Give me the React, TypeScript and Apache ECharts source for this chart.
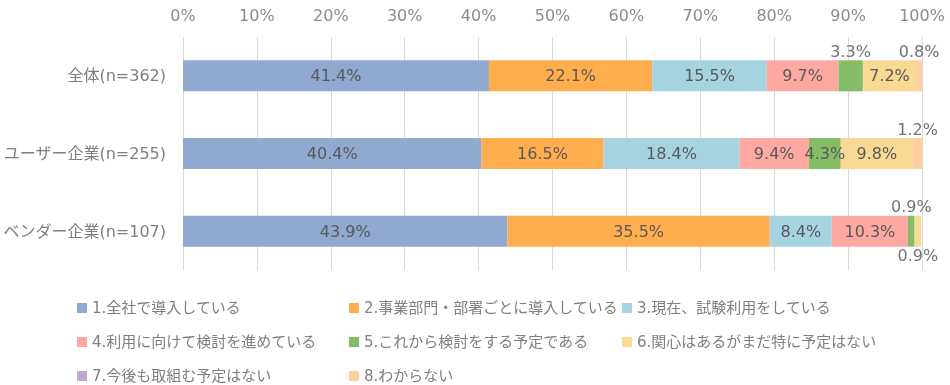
import React, { useEffect, useRef } from "react";
import * as echarts from "echarts";

const categories = ["全体(n=362)", "ユーザー企業(n=255)", "ベンダー企業(n=107)"];
const seriesNames = [
  "1.全社で導入している",
  "2.事業部門・部署ごとに導入している",
  "3.現在、試験利用をしている",
  "4.利用に向けて検討を進めている",
  "5.これから検討をする予定である",
  "6.関心はあるがまだ特に予定はない",
  "7.今後も取組む予定はない",
  "8.わからない",
];
const s1 = [41.4, 40.4, 43.9];
const s2 = [22.1, 16.5, 35.5];
const s3 = [15.5, 18.4, 8.4];
const s4 = [9.7, 9.4, 10.3];
const s5 = [3.3, 4.3, 0.9];
const s6 = [7.2, 9.8, 0.9];
const s7 = [0, 0, 0];
const s8 = [0.8, 1.2, 0];
const seriesValues = [s1, s2, s3, s4, s5, s6, s7, s8];
const xTicks = { min: 0, max: 100, interval: 10 };

const colors = ["#8FA9D0", "#FFAD4D", "#A6D3E0", "#FDA9A2", "#85BD67", "#F9DA95", "#BFA6D3", "#FFCF9F"];

// label placement overrides: [seriesIndex][rowIndex]
const placement: Record<string, "top" | "bottom"> = {
  "4-0": "top",
  "4-2": "top",
  "5-2": "bottom",
  "7-0": "top",
  "7-1": "top",
};

const FONT = "'DejaVu Sans', 'Noto Sans CJK JP', sans-serif";

export default function App() {
  const ref = useRef<HTMLDivElement>(null);
  useEffect(() => {
    if (!ref.current) return;
    const chart = echarts.init(ref.current, null, { renderer: "svg" });
    const series = seriesValues.map((vals, si) => ({
      name: seriesNames[si],
      type: "bar",
      stack: "total",
      barWidth: 31,
      itemStyle: { color: colors[si] },
      data: vals.map((v, ri) => {
        const pos = placement[`${si}-${ri}`];
        return {
          value: v,
          label: {
            show: v > 0,
            position: pos ? pos : "inside",
            distance: 1,
            color: pos ? "#737373" : "#595959",
          },
        };
      }),
      label: {
        show: true,
        fontFamily: FONT,
        fontSize: 16,
        formatter: (p: any) => `${Number(p.value).toFixed(1)}%`,
      },
    }));
    const legendCols = [
      { left: 77, data: [seriesNames[0], seriesNames[3], seriesNames[6]] },
      { left: 349, data: [seriesNames[1], seriesNames[4], seriesNames[7]] },
      { left: 622, data: [seriesNames[2], seriesNames[5]] },
    ];
    chart.setOption({
      animation: false,
      color: colors,
      grid: { left: 183, right: 28, top: 37, bottom: 115, containLabel: false },
      xAxis: {
        type: "value",
        position: "top",
        min: xTicks.min,
        max: xTicks.max,
        interval: xTicks.interval,
        axisLine: { show: false },
        axisTick: { show: false },
        axisLabel: {
          formatter: "{value}%",
          color: "#8C8C8C",
          fontFamily: FONT,
          fontSize: 16,
          margin: 14,
        },
        splitLine: { show: true, lineStyle: { color: "#D9D9D9", width: 1 } },
      },
      yAxis: {
        type: "category",
        inverse: true,
        data: categories,
        axisLine: { show: false },
        axisTick: { show: false },
        axisLabel: { color: "#7F7F7F", fontFamily: FONT, fontSize: 16, margin: 17 },
      },
      legend: legendCols.map((c) => ({
        orient: "vertical",
        left: c.left,
        top: 300,
        height: 85,
        padding: 0,
        data: c.data,
        icon: "rect",
        itemWidth: 10,
        itemHeight: 10,
        itemGap: 18,
        textStyle: { color: "#7F7F7F", fontFamily: FONT, fontSize: 15, lineHeight: 16 },
      })),
      series,
    });
    return () => chart.dispose();
  }, []);
  return <div ref={ref} style={{ position: "fixed", left: 0, top: 0, width: 950, height: 385 }} />;
}
